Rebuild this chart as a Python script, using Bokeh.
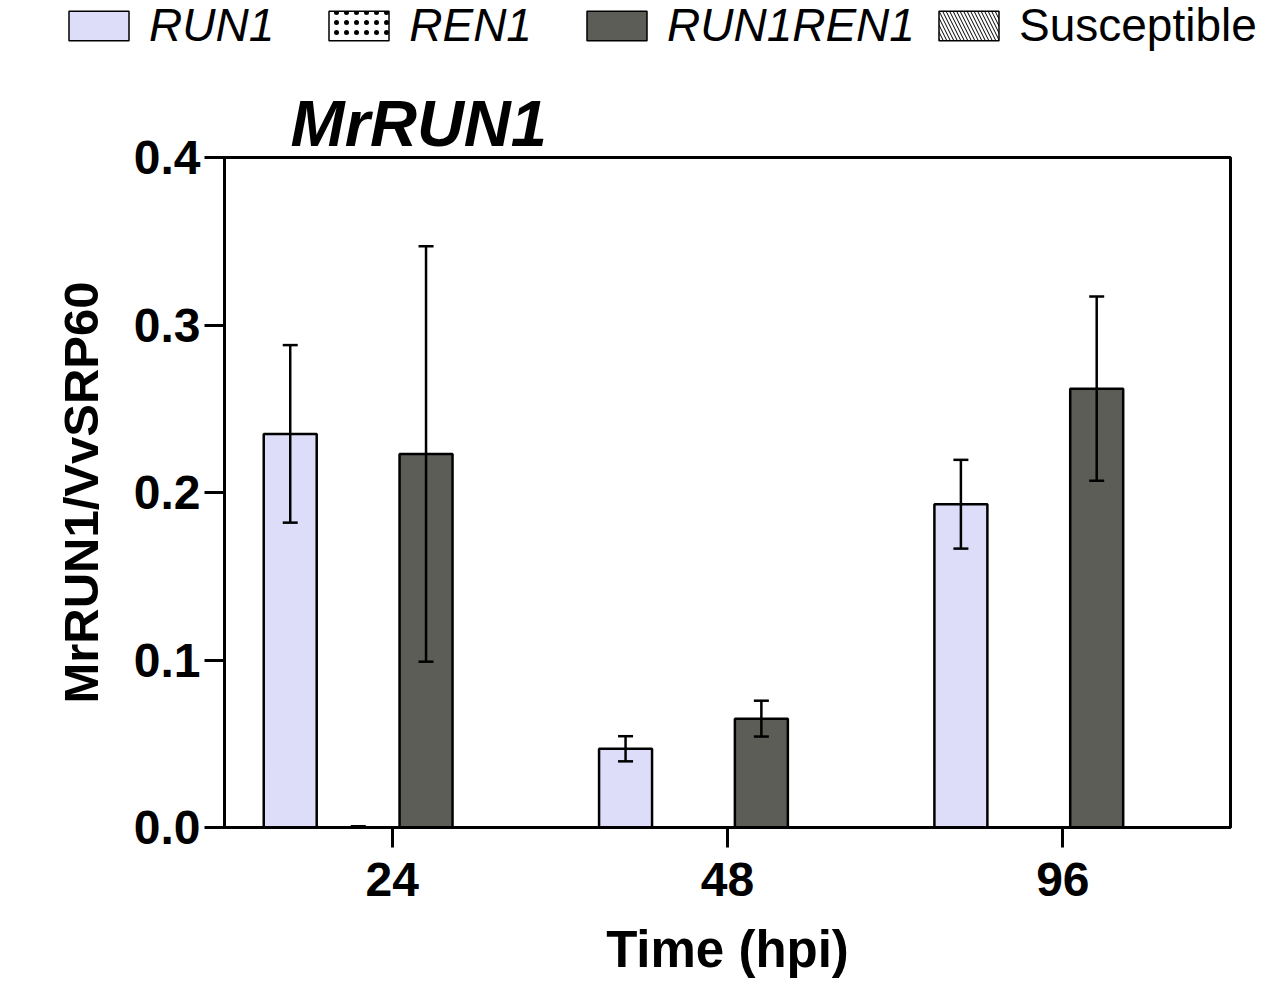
from bokeh.plotting import figure
from bokeh.layouts import column
from bokeh.models import (ColumnDataSource, Whisker, TeeHead, Legend, LegendItem,
                          FixedTicker, NumeralTickFormatter, Range1d, FactorRange)
from bokeh.transform import dodge
from bokeh.embed import file_html
from bokeh.resources import INLINE

# ---- data ----
times = ["24", "48", "96"]
series = ["RUN1", "REN1", "RUN1REN1", "Susceptible"]
run1 = [0.235, 0.047, 0.193]
run1_err = [0.053, 0.0075, 0.0265]
ren1 = [0.0, 0.0, 0.0]
ren1_err = [0.0008, 0.0, 0.0]
run1ren1 = [0.223, 0.065, 0.262]
run1ren1_err = [0.124, 0.0107, 0.055]
susceptible = [0.0, 0.0, 0.0]
susceptible_err = [0.0, 0.0, 0.0]
y_ticks = [0.0, 0.1, 0.2, 0.3, 0.4]

FONT = "Liberation Sans"
TOTAL_W = 1265
LEG_H = 60

offsets = [-0.304, -0.101, 0.101, 0.304]
bar_w = 0.158
vals = [run1, ren1, run1ren1, susceptible]
errs = [run1_err, ren1_err, run1ren1_err, susceptible_err]
fills = ["#DDDDF9", "white", "#5B5D56", "white"]
hatches = [" ", "dot", " ", "left_diagonal_line"]
hatch_scales = [7, 10, 7, 7]

sources = []
for v, e in zip(vals, errs):
    sources.append(ColumnDataSource(dict(x=times, top=v,
                                         upper=[a + b for a, b in zip(v, e)],
                                         lower=[a - b for a, b in zip(v, e)])))

# ---- main chart ----
p = figure(x_range=FactorRange(*times), y_range=Range1d(0, 0.4),
           frame_width=1006, frame_height=670,
           min_border_left=224, min_border_top=157 - LEG_H, min_border_right=35,
           min_border_bottom=140,
           output_backend="svg", toolbar_location=None, background_fill_color="white",
           border_fill_color="white")

p.title.text = "MrRUN1"
p.title.text_font = FONT
p.title.text_font_size = "65px"
p.title.text_font_style = "bold italic"
p.title.text_color = "black"
p.title.align = "left"
p.title.offset = 66
p.title.standoff = -5

p.xgrid.visible = False
p.ygrid.visible = False
p.outline_line_color = "black"
p.outline_line_width = 3
p.outline_line_alpha = 1

for src, off, fc, hp, hs in zip(sources, offsets, fills, hatches, hatch_scales):
    p.vbar(x=dodge("x", off, range=p.x_range), top="top", width=bar_w, source=src,
           fill_color=fc, line_color="black", line_width=2.5,
           hatch_pattern=hp, hatch_color="black", hatch_scale=hs, hatch_weight=1)
    w = Whisker(base=dodge("x", off, range=p.x_range), upper="upper", lower="lower", source=src,
                line_color="black", line_width=2.5, level="overlay",
                upper_head=TeeHead(size=15, line_width=2.5, line_color="black"),
                lower_head=TeeHead(size=15, line_width=2.5, line_color="black"))
    p.add_layout(w)

# axes
p.yaxis.ticker = FixedTicker(ticks=y_ticks)
p.yaxis.formatter = NumeralTickFormatter(format="0.0")
p.yaxis.minor_tick_line_color = None
p.yaxis.major_tick_out = 20
p.yaxis.major_tick_in = 0
p.yaxis.major_tick_line_width = 3
p.yaxis.axis_line_width = 3
p.yaxis.major_label_standoff = 4
p.yaxis.major_label_text_font = FONT
p.yaxis.major_label_text_font_style = "bold"
p.yaxis.major_label_text_font_size = "48px"
p.yaxis.major_label_text_color = "black"
p.yaxis.axis_label = "MrRUN1/VvSRP60"
p.yaxis.axis_label_text_font = FONT
p.yaxis.axis_label_text_font_style = "bold"
p.yaxis.axis_label_text_font_size = "49px"
p.yaxis.axis_label_text_color = "black"
p.yaxis.axis_label_standoff = 23

p.xaxis.major_tick_out = 20
p.xaxis.major_tick_in = 0
p.xaxis.major_tick_line_width = 3
p.xaxis.axis_line_width = 3
p.xaxis.major_label_standoff = 15
p.xaxis.major_label_text_font = FONT
p.xaxis.major_label_text_font_style = "bold"
p.xaxis.major_label_text_font_size = "48px"
p.xaxis.major_label_text_color = "black"
p.xaxis.axis_label = "Time (hpi)"
p.xaxis.axis_label_text_font = FONT
p.xaxis.axis_label_text_font_style = "bold"
p.xaxis.axis_label_text_font_size = "51px"
p.xaxis.axis_label_text_color = "black"
p.xaxis.axis_label_standoff = 22

# ---- legend strip: a separate canvas (so the legend is not clipped); its renderers
# share the sources but are hidden, only their legend swatches are drawn ----
lf = figure(frame_width=TOTAL_W, frame_height=LEG_H,
            x_range=FactorRange(*times), y_range=Range1d(0, 0.4),
            x_axis_location=None, y_axis_location=None,
            min_border=0, min_border_left=0, min_border_right=0, min_border_top=0,
            min_border_bottom=0, output_backend="svg", toolbar_location=None,
            outline_line_color=None, background_fill_color="white", border_fill_color="white")
lf.grid.visible = False
leg_renderers = []
for src, off, fc, hp, hs in zip(sources, offsets, fills, hatches, hatch_scales):
    r = lf.vbar(x=dodge("x", off, range=lf.x_range), top="top", width=bar_w, source=src,
                fill_color=fc, line_color="black", line_width=1.5,
                hatch_pattern=hp, hatch_color="black", hatch_scale=hs, hatch_weight=1)
    r.visible = False
    leg_renderers.append(r)

common = dict(orientation="horizontal", glyph_width=75, glyph_height=37, label_standoff=13,
              padding=0, margin=0, border_line_alpha=0, background_fill_alpha=0,
              label_text_font=FONT, label_text_font_size="46px", label_height=30,
              label_text_color="black", click_policy="none")
legA = Legend(items=[LegendItem(label=s, renderers=[r], index=0)
                     for s, r in zip(series[:3], leg_renderers[:3])],
              location=(61, 8), spacing=47, label_text_font_style="italic", **common)
legB = Legend(items=[LegendItem(label=series[3], renderers=[leg_renderers[3]], index=0)],
              location=(931, 8), spacing=47, label_text_font_style="normal", **common)
lf.add_layout(legA)
lf.add_layout(legB)

layout = column(lf, p, spacing=0)
open("out.html", "w").write(file_html(layout, INLINE))
